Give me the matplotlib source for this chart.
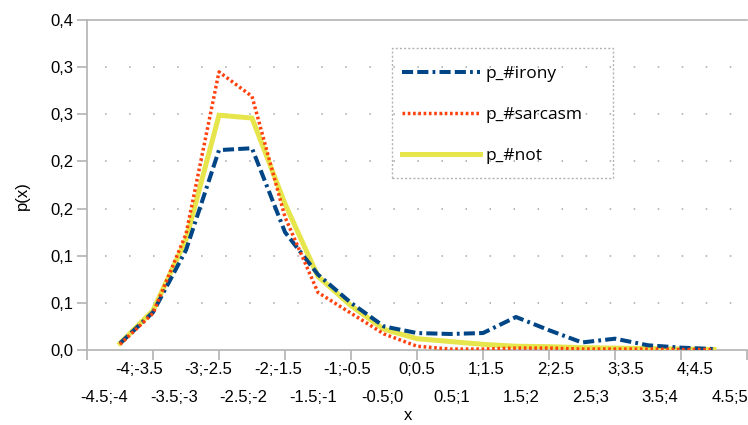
import matplotlib
matplotlib.use('Agg')
import matplotlib.pyplot as plt
from matplotlib.patches import Rectangle

# bins (x categories) and probabilities
bins = ['-4.5;-4', '-4;-3.5', '-3.5;-3', '-3;-2.5', '-2.5;-2', '-2;-1.5', '-1.5;-1',
        '-1;-0.5', '-0.5;0', '0;0.5', '0.5;1', '1;1.5', '1.5;2', '2;2.5', '2.5;3',
        '3;3.5', '3.5;4', '4;4.5', '4.5;5']
p_irony = [0.007, 0.040, 0.106, 0.212, 0.214, 0.125, 0.080, 0.050, 0.025, 0.018,
           0.017, 0.018, 0.035, 0.021, 0.008, 0.012, 0.005, 0.0025, 0.001]
p_sarcasm = [0.006, 0.039, 0.123, 0.295, 0.269, 0.141, 0.061, 0.039, 0.017, 0.004,
             0.001, 0.001, 0.002, 0.002, 0.001, 0.001, 0.001, 0.0005, 0.0005]
p_not = [0.007, 0.042, 0.117, 0.249, 0.246, 0.155, 0.078, 0.047, 0.022, 0.012,
         0.009, 0.006, 0.004, 0.0035, 0.0025, 0.002, 0.0015, 0.001, 0.0005]
ytick_vals = [0.0, 0.05, 0.10, 0.15, 0.20, 0.25, 0.30, 0.35]
ytick_labels = ['0,0', '0,1', '0,1', '0,2', '0,2', '0,3', '0,3', '0,4']

plt.rcParams['lines.scale_dashes'] = False
W, H = 748, 425
grey = '#b3b3b3'

fig = plt.figure(figsize=(W / 100, H / 100), dpi=100)
ax = fig.add_axes([87 / W, 75 / H, 660 / W, 330 / H])

xs = list(range(1, len(bins) + 1))
ax.plot(xs, p_not, color='#e6e64c', lw=3.6, solid_joinstyle='miter', zorder=3, label='p_#not')
ax.plot(xs, p_irony, color='#004586', lw=2.9, dashes=(8, 3, 8, 3, 2, 3), zorder=4, label='p_#irony')
ax.plot(xs, p_sarcasm, color='#ff420e', lw=2.5, dashes=(1.9, 1.9), zorder=5, label='p_#sarcasm')

ax.set_xlim(0, 20)
ax.set_ylim(0, 0.35)

# axes look
ax.spines['right'].set_visible(False)
for s in ['left', 'bottom', 'top']:
    ax.spines[s].set_color(grey)
    ax.spines[s].set_linewidth(1.2)

ax.set_yticks(ytick_vals)
ax.set_yticklabels(ytick_labels, fontsize=12, family='Liberation Sans')
ax.set_xticks(range(0, 21, 2))
ax.set_xticklabels([])
ax.tick_params(axis='both', color=grey, length=7, width=1.2, direction='out')
ax.tick_params(axis='y', pad=3)

for yv in ytick_vals[1:-1]:
    ax.axhline(yv, color=grey, lw=1.3, linestyle=(4.3, (1.1, 16.2)), zorder=1)

# category labels, staggered in two rows
n = len(bins)
for k, lab in enumerate(bins):
    xp = (k + 0.5) * 20 / n
    yp = -20 / 330 if k % 2 == 1 else -47 / 330
    ax.text(xp, yp, lab, transform=ax.get_xaxis_transform(), ha='center', va='center',
            fontsize=12, family='Liberation Sans')

fig.text(408 / W, 1 - 415 / H, 'x', ha='center', va='center', fontsize=12, family='Liberation Sans')
fig.text(22 / W, 1 - 196 / H, 'p(x)', ha='center', va='center', rotation=90, fontsize=12,
         family='Liberation Sans')

# legend with dotted box
box = Rectangle((392 / W, 1 - 178 / H), 221 / W, 130 / H, transform=fig.transFigure,
                fill=False, edgecolor=grey, lw=1, linestyle=(0, (1.5, 1.5)))
fig.patches.append(box)
h, l = ax.get_legend_handles_labels()
order = [1, 2, 0]
ax.legend([h[i] for i in order], [l[i] for i in order], loc='upper left',
          bbox_to_anchor=(402 / W, 1 - 66 / H), bbox_transform=fig.transFigure,
          frameon=False, borderaxespad=0, borderpad=0, handlelength=4.5, handletextpad=0.3,
          labelspacing=1.42, prop={'family': 'Open Sans', 'size': 12.5})

fig.savefig('out.png', dpi=100)
